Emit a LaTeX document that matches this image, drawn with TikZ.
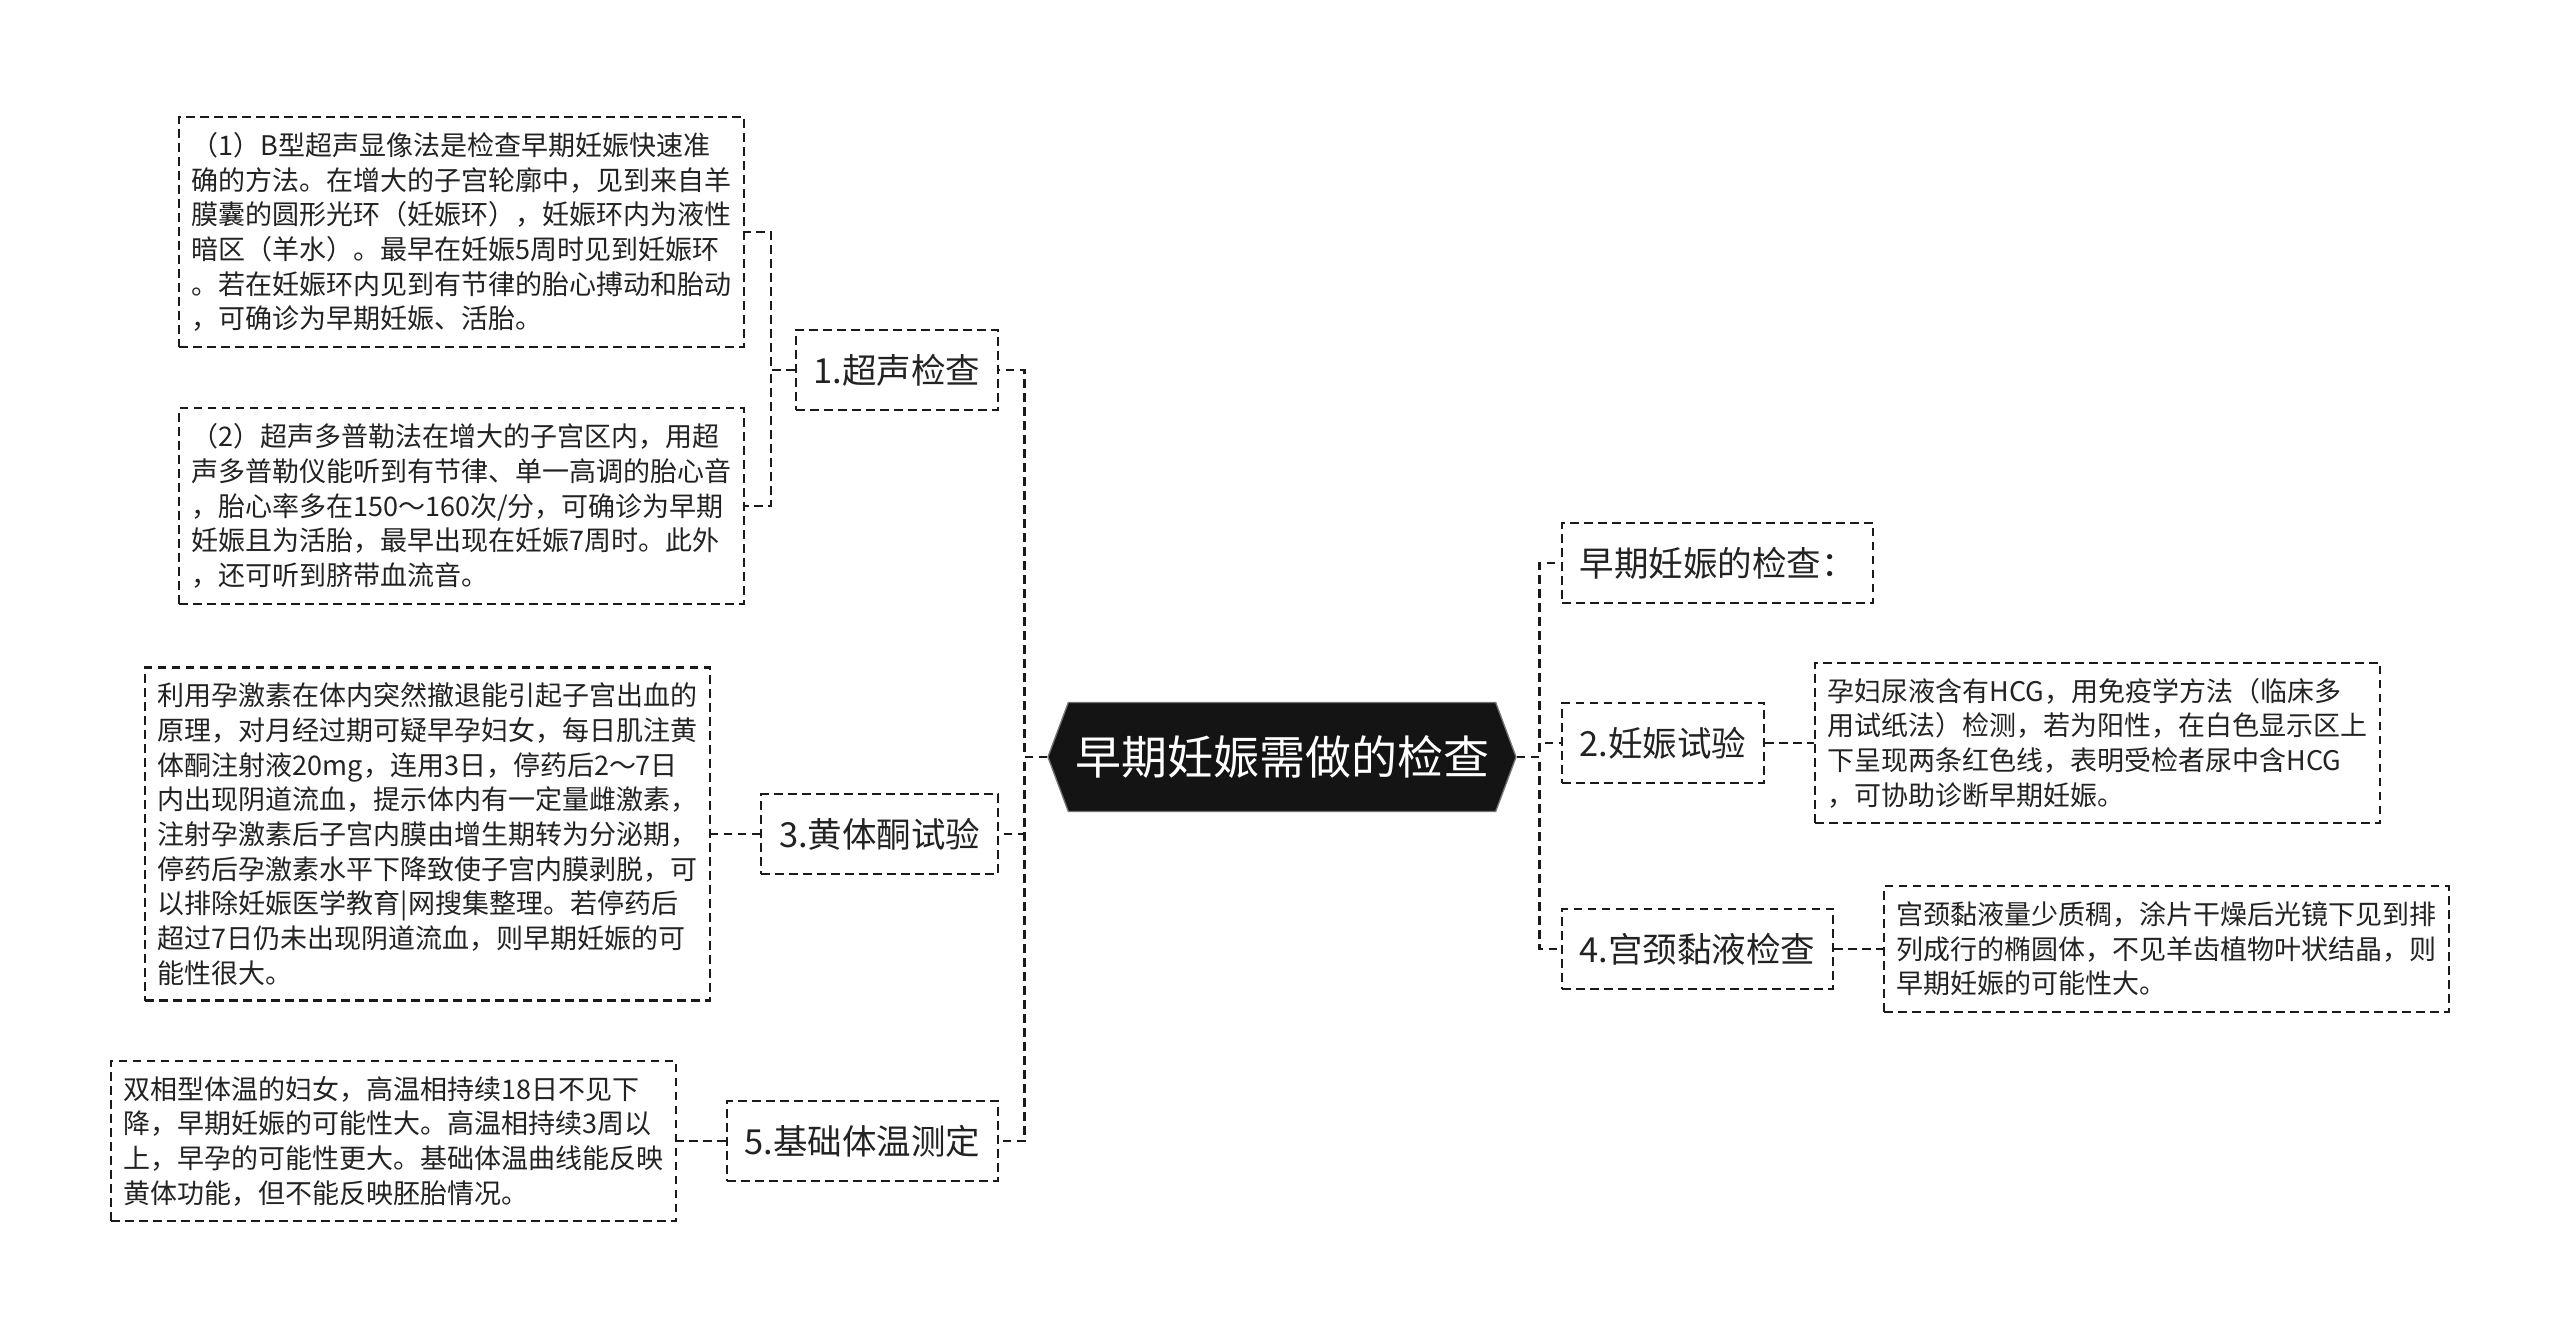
\documentclass[tikz,border=0pt]{standalone}
\usepackage{fontspec}
\setmainfont{Noto Sans CJK SC}
\usetikzlibrary{positioning,shapes.symbols}
\definecolor{MapLine}{HTML}{1A1A1A}
\definecolor{MapText}{HTML}{222222}
\definecolor{MapRoot}{HTML}{141414}

\begin{document}
\begin{tikzpicture}[
    x=0.3pt, y=-0.3pt,
    node distance=14.7pt,
    dashline/.style={draw=MapLine, line width=0.62pt, dash pattern=on 2.6pt off 1.6pt},
    root/.style={shape=signal, signal to=west and east, signal pointer angle=139,
      fill=MapRoot, draw=black!55, line width=0.4pt, text=white, inner xsep=2pt,
      minimum width=139pt, minimum height=32.7pt, font=\fontsize{13.8pt}{16pt}\selectfont},
    topic/.style={dashline, text=MapText, minimum height=24pt, inner xsep=5.3pt,
      font=\fontsize{10.35pt}{12pt}\selectfont},
    note/.style={dashline, text=MapText, text width=162pt, align=left,
      inner xsep=3.75pt, inner ysep=4.6pt, font=\fontsize{8.1pt}{10.4pt}\selectfont},
    link/.style={dashline, line width=0.8pt}
  ]
    \useasboundingbox (0,0) rectangle (2560,1340);

    \node[root] (root) at (1282,757) {早期妊娠需做的检查};

    % left side
    \node[topic, anchor=east] (chao) at (999,370) {1.超声检查};
    \node[topic, anchor=east] (huang) at (999,834) {3.黄体酮试验};
    \node[topic, anchor=east] (tiwen) at (999,1141) {5.基础体温测定};

    \node[note, anchor=east] (chaoB) at ([xshift=-15pt, yshift=41.4pt]chao.west)
      {（1）B型超声显像法是检查早期妊娠快速准\\确的方法。在增大的子宫轮廓中，见到来自羊\\膜囊的圆形光环（妊娠环），妊娠环内为液性\\暗区（羊水）。最早在妊娠5周时见到妊娠环\\。若在妊娠环内见到有节律的胎心搏动和胎动\\，可确诊为早期妊娠、活胎。};
    \node[note, anchor=east] (chaoD) at ([xshift=-15pt, yshift=-40.8pt]chao.west)
      {（2）超声多普勒法在增大的子宫区内，用超\\声多普勒仪能听到有节律、单一高调的胎心音\\，胎心率多在150～160次/分，可确诊为早期\\妊娠且为活胎，最早出现在妊娠7周时。此外\\，还可听到脐带血流音。};
    \node[note, left=of huang] (huangT)
      {利用孕激素在体内突然撤退能引起子宫出血的\\原理，对月经过期可疑早孕妇女，每日肌注黄\\体酮注射液20mg，连用3日，停药后2～7日\\内出现阴道流血，提示体内有一定量雌激素，\\注射孕激素后子宫内膜由增生期转为分泌期，\\停药后孕激素水平下降致使子宫内膜剥脱，可\\以排除妊娠医学教育|网搜集整理。若停药后\\超过7日仍未出现阴道流血，则早期妊娠的可\\能性很大。};
    \node[note, left=of tiwen] (tiwenT)
      {双相型体温的妇女，高温相持续18日不见下\\降，早期妊娠的可能性大。高温相持续3周以\\上，早孕的可能性更大。基础体温曲线能反映\\黄体功能，但不能反映胚胎情况。};

    % right side
    \node[topic, anchor=west] (zaoqi) at (1561,563) {早期妊娠的检查：};
    \node[topic, anchor=west] (renshen) at (1561,743) {2.妊娠试验};
    \node[topic, anchor=west] (gongjing) at (1561,949) {4.宫颈黏液检查};

    \node[note, right=of renshen] (renshenT)
      {孕妇尿液含有HCG，用免疫学方法（临床多\\用试纸法）检测，若为阳性，在白色显示区上\\下呈现两条红色线，表明受检者尿中含HCG\\，可协助诊断早期妊娠。};
    \node[note, right=of gongjing] (gongjingT)
      {宫颈黏液量少质稠，涂片干燥后光镜下见到排\\列成行的椭圆体，不见羊齿植物叶状结晶，则\\早期妊娠的可能性大。};

    \draw[link] (root.west) -- ++(-23,0) |- (chao.east);
    \draw[link] (root.west) -- ++(-23,0) |- (huang.east);
    \draw[link] (root.west) -- ++(-23,0) |- (tiwen.east);
    \draw[link] (root.east) -- ++(23,0) |- (zaoqi.west);
    \draw[link] (root.east) -- ++(23,0) |- (renshen.west);
    \draw[link] (root.east) -- ++(23,0) |- (gongjing.west);

    \draw[link] (chao.west) -- ++(-24,0) |- (chaoB.east);
    \draw[link] (chao.west) -- ++(-24,0) |- (chaoD.east);
    \draw[link] (huang.west) -- (huangT.east);
    \draw[link] (tiwen.west) -- (tiwenT.east);
    \draw[link] (renshen.east) -- (renshenT.west);
    \draw[link] (gongjing.east) -- (gongjingT.west);
  \end{tikzpicture}
\end{document}
